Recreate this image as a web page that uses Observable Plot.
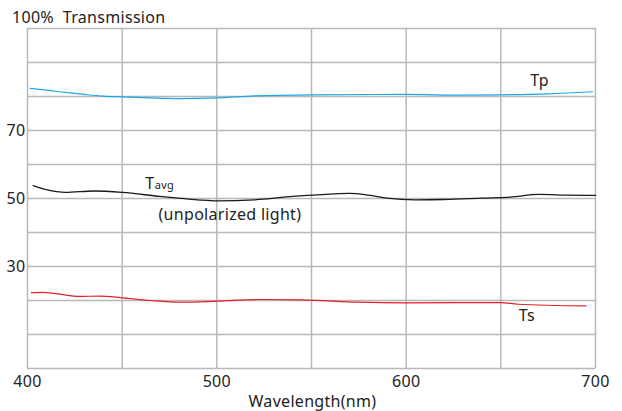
<!DOCTYPE html>
<html><head><meta charset="utf-8">
<script src="https://cdn.jsdelivr.net/npm/d3@7"></script>
<script src="https://cdn.jsdelivr.net/npm/@observablehq/plot@0.6"></script>
<style>html,body{margin:0;padding:0;background:#fff} svg{display:block}</style>
</head><body><div id="chart"></div>
<script>
// grid & ticks
const xGrid = [400, 450, 500, 550, 600, 650, 700];
const yGrid = [0, 10, 20, 30, 40, 50, 60, 70, 80, 90, 100];
const xTicks = [400, 500, 600, 700];
const yTicks = [30, 50, 70];

// Tp (p-polarized transmission)
const tpWl  = [401.5, 410, 420, 430, 440, 450, 465, 480, 500, 520, 550, 600, 630, 650, 675, 698.5];
const tpVal = [82.4, 81.9, 81.2, 80.6, 80.1, 79.9, 79.6, 79.4, 79.6, 80.2, 80.5, 80.6, 80.4, 80.5, 80.8, 81.4];

// Tavg (unpolarized)
const tavgWl  = [403, 410, 420, 435, 450, 470, 490, 500, 520, 540, 560, 570, 580, 590, 605, 620, 640, 655, 670, 685, 700];
const tavgVal = [53.8, 52.6, 51.8, 52.2, 51.8, 50.6, 49.6, 49.3, 49.6, 50.6, 51.3, 51.5, 51.0, 50.1, 49.6, 49.7, 50.1, 50.4, 51.2, 51.0, 50.9];

// Ts (s-polarized transmission)
const tsWl  = [402, 408, 415, 428, 438, 450, 465, 481, 500, 523, 545, 575, 600, 650, 659, 695];
const tsVal = [22.3, 22.4, 22.0, 21.2, 21.3, 20.8, 20.0, 19.5, 19.8, 20.3, 20.2, 19.5, 19.3, 19.4, 18.9, 18.4];

// text labels
const titleText = "100%  Transmission";
const xLabelText = "Wavelength(nm)";
const tpLabel = "Tp", tsLabel = "Ts", tLabel = "T", avgLabel = "avg", unpolLabel = "(unpolarized light)";

const toRows = (w, v) => w.map((x, i) => ({wl: x, v: v[i]}));
const tp = toRows(tpWl, tpVal), tavg = toRows(tavgWl, tavgVal), ts = toRows(tsWl, tsVal);

const ann = (text, x, y) => [{text, x, y}];
const txt = (d, size, extra = {}) => Plot.text(d, {x: "x", y: "y", text: "text", textAnchor: "start", lineAnchor: "bottom", fontSize: size, fill: "#222", ...extra});

const chart = Plot.plot({
  width: 622, height: 411,
  marginLeft: 27, marginRight: 27, marginTop: 28, marginBottom: 43,
  x: {domain: [400, 700]},
  y: {domain: [0, 100]},
  style: {fontFamily: "'Noto Sans', sans-serif", fontSize: "16px", color: "#222", letterSpacing: "0.3px", background: "#fff"},
  marks: [
    Plot.ruleX(xGrid, {stroke: "#b9b9b9", strokeWidth: 1.5}),
    Plot.ruleY(yGrid, {stroke: "#b9b9b9", strokeWidth: 1.5}),
    Plot.axisX({ticks: xTicks, tickSize: 0, tickPadding: 7, label: null, fontSize: 16}),
    Plot.axisY({ticks: yTicks, tickSize: 0, tickPadding: 2, label: null, fontSize: 16}),
    Plot.line(tp, {x: "wl", y: "v", stroke: "#1ea7e6", strokeWidth: 1.2, curve: "monotone-x"}),
    Plot.line(tavg, {x: "wl", y: "v", stroke: "#1a1a1a", strokeWidth: 1.3, curve: "monotone-x"}),
    Plot.line(ts, {x: "wl", y: "v", stroke: "#e3202c", strokeWidth: 1.2, curve: "monotone-x"}),
    txt(ann(titleText, 391.8, 101.6), 16),
    txt(ann(xLabelText, 550.5, -11.3), 16, {textAnchor: "middle"}),
    txt(ann(tpLabel, 665.6, 83.0), 16),
    txt(ann(tsLabel, 659.5, 14.0), 16),
    txt(ann(tLabel, 462.2, 52.65), 16),
    txt(ann(avgLabel, 467.2, 52.65), 11),
    txt(ann(unpolLabel, 469.2, 43.6), 16)
  ]
});
document.getElementById("chart").appendChild(chart);
</script>
</body></html>
